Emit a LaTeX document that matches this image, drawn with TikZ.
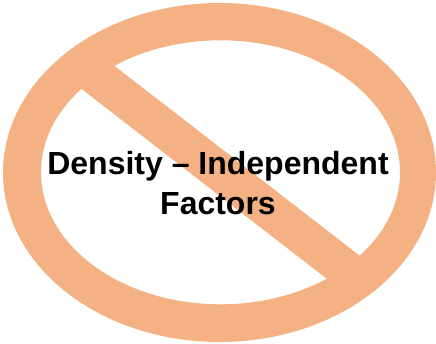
\documentclass[tikz,border=0pt]{standalone}
\usepackage{fontspec}
\setmainfont{Liberation Sans}
\definecolor{ringc}{RGB}{244,177,131}
\begin{document}
\begin{tikzpicture}[x=1pt,y=-1pt,
  ringshape/.style={even odd rule,fill=ringc},
  barshape/.style={fill=ringc},
  lbl/.style={font=\bfseries\fontsize{32}{40}\selectfont,align=center,text=black}]
\useasboundingbox (0,0) rectangle (436,344);
\fill[ringshape] (219.5,172.5) ellipse [x radius=216.5,y radius=169.5]
  (220.5,172.3) ellipse [x radius=179.5,y radius=132];
\fill[barshape] (70,80) -- (103,57) -- (373,266) -- (340,289) -- cycle;
\node[lbl] (t) at (218,183) {Density -- Independent\\Factors};
\end{tikzpicture}
\end{document}
